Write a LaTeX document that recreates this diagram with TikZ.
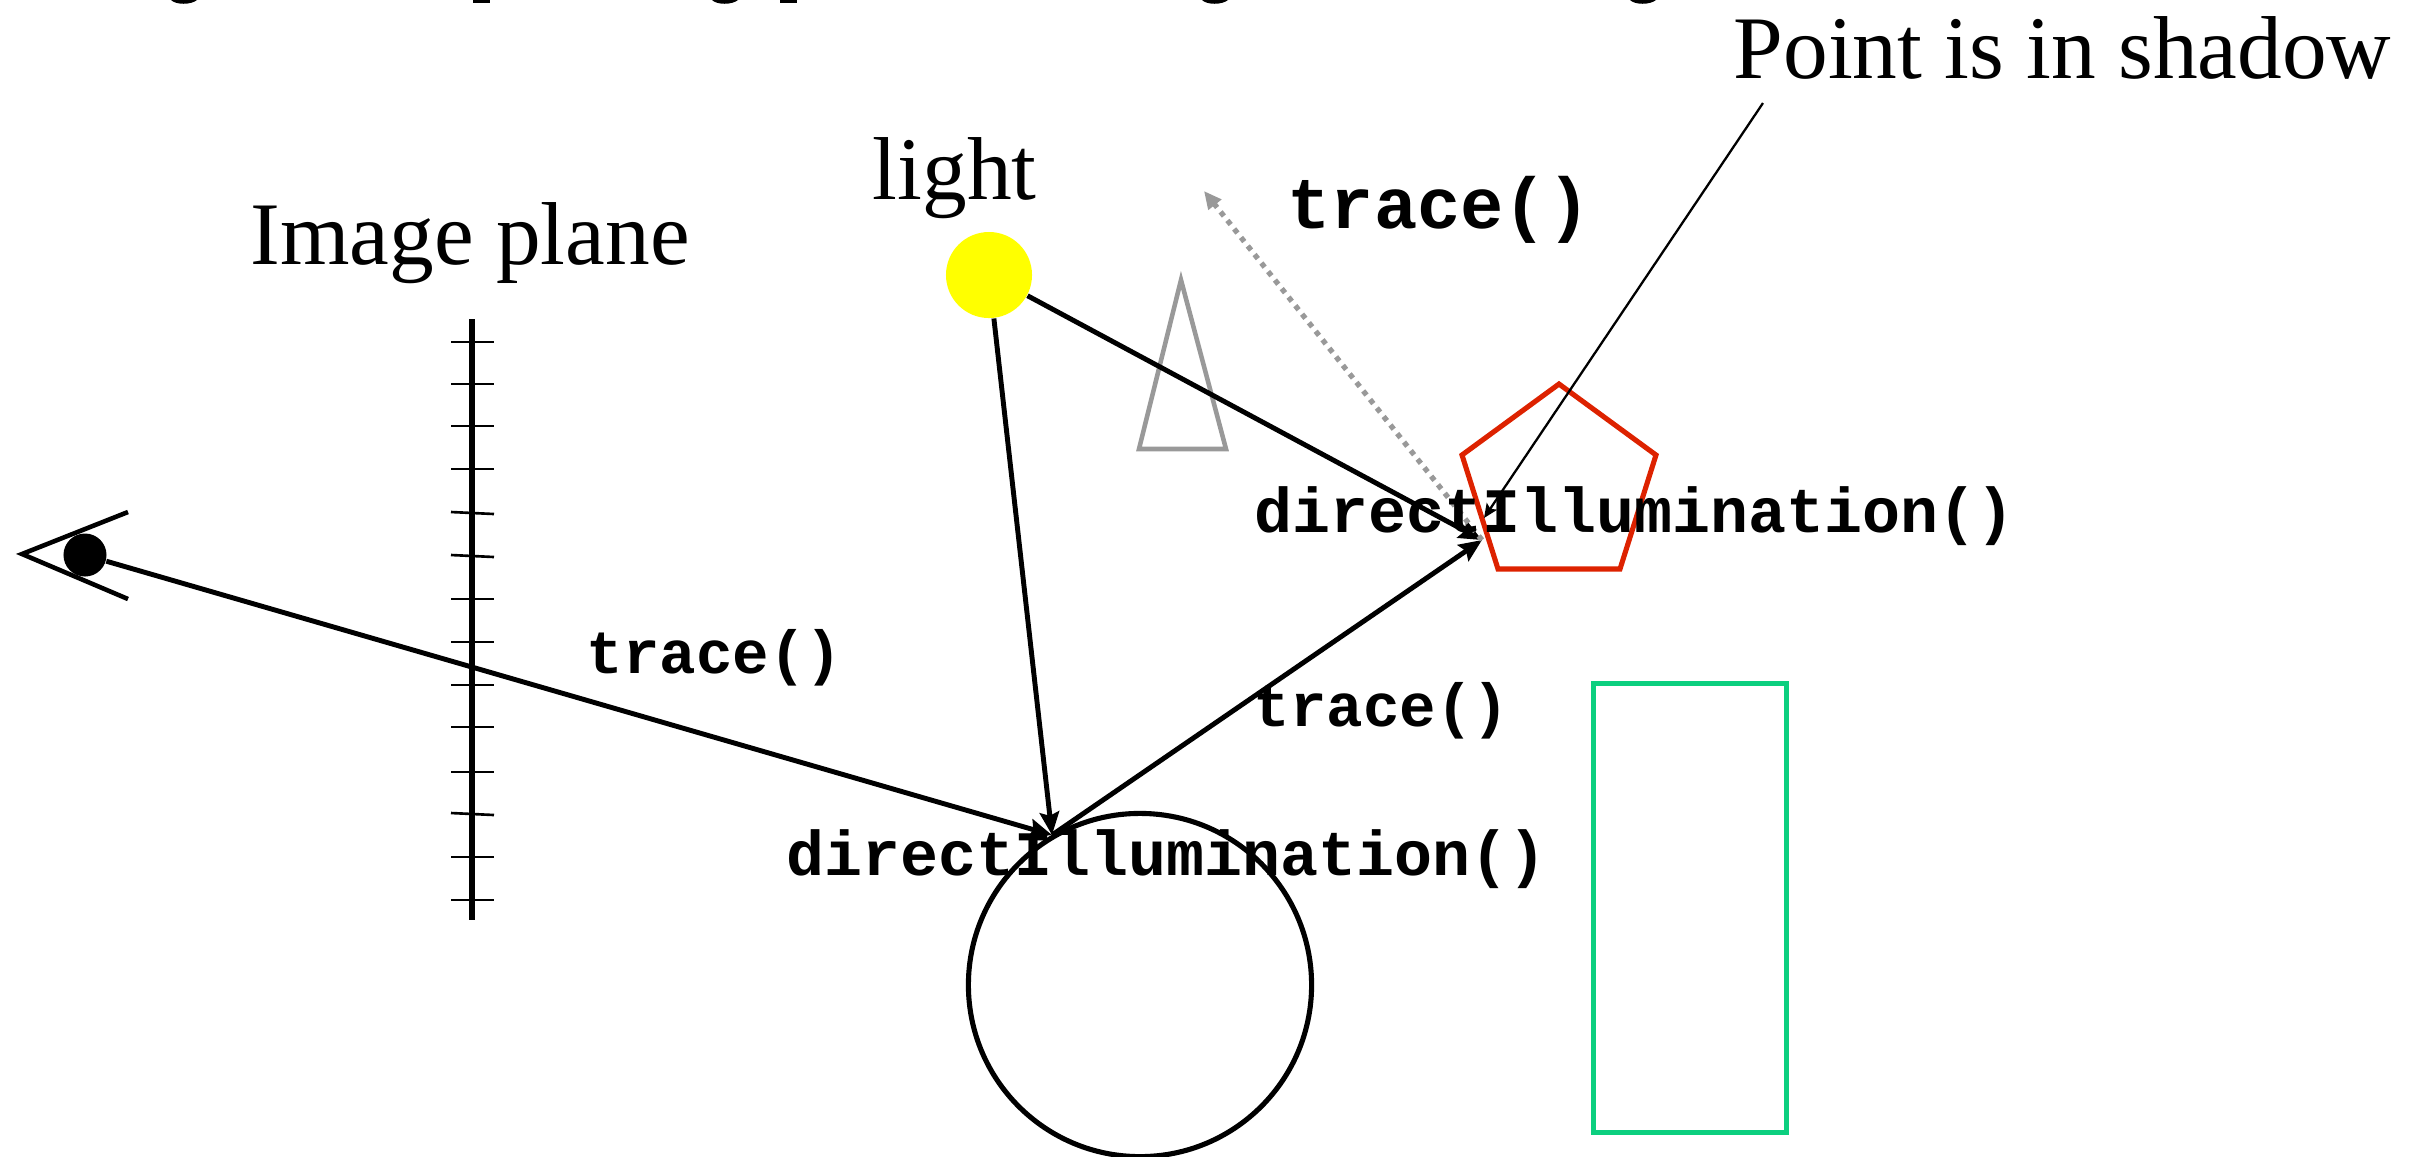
\documentclass[tikz,border=0pt]{standalone}
\usepackage{fontspec}
\usetikzlibrary{arrows.meta}
\setmainfont{Liberation Serif}
\setmonofont{Liberation Mono}
\tikzset{
  biglabel/.style={anchor=base west, inner sep=0pt, font=\fontsize{25.4}{30}\selectfont},
  codelabel/.style={anchor=base west, inner sep=0pt, font=\fontsize{18}{24}\selectfont\ttfamily\bfseries},
  tracelabel/.style={anchor=base west, inner sep=0pt, font=\fontsize{17.3}{24}\selectfont\ttfamily\bfseries},
  ray/.style={-{Stealth[length=6.5pt,width=5.5pt,inset=1pt]}, line width=1.4pt},
  greyshape/.style={draw=shadowgrey, line width=1.3pt},
}
\definecolor{shadowgrey}{HTML}{999999}
\definecolor{pentred}{HTML}{DD2200}
\definecolor{boxgreen}{HTML}{0CCF7F}
\definecolor{lampyellow}{HTML}{FFFF00}
\begin{document}
\begin{tikzpicture}[x=0.01cm, y=-0.01cm]
\clip (0,0) rectangle (2420,1156);

% cut-off title
\foreach \x in {171,712,1202,1630} \fill (\x,0) .. controls (\x+5,5) and (\x+20,5) .. (\x+26,0) -- cycle;
\foreach \x in {473,780} \fill (\x,0) rectangle (\x+17,3);

% eye
\node[circle, fill=black, inner sep=0pt, minimum size=0.43cm] (pupil) at (85,555) {};
\coordinate (lidup) at (128,512);
\coordinate (lidlow) at (128,599);
\coordinate (lidapex) at (22,554);
\draw[line width=1.3pt] (lidup) -- (lidapex) -- (lidlow);

% image plane
\coordinate (planetop) at (472,319);
\coordinate (planebot) at (472,920);
\draw[line width=1.5pt] (planetop) -- (planebot);
\foreach \y/\d in {342/0,384/0,426/0,469/0,513/1,556/1,599/0,642/0,685/0,727/0,772/0,814/1,857/0,900/0}
  \draw[line width=0.75pt] (451,\y-\d) -- (494,\y+\d);

% objects
\node[circle, draw, line width=1.45pt, minimum size=3.43cm] (sphere) at (1140,985) {};
\node[draw=boxgreen, rectangle, line width=1.5pt, minimum width=1.93cm, minimum height=4.49cm] (box) at (1690,908) {};
\draw[pentred, line width=1.45pt] (1559,384) -- (1656,455) -- (1620,569) -- (1498,569) -- (1462,455) -- cycle;
\draw[greyshape] (1181,280) -- (1226,449) -- (1139,449) -- cycle;
\node[circle, fill=lampyellow, inner sep=0pt, minimum size=0.86cm] (lamp) at (989,275) {};

% rays
\coordinate (hitsphere) at (1052,835);
\coordinate (hitpent) at (1482,540);
\coordinate (blocked) at (1204,191);
\coordinate (noteend) at (1763,103);
\coordinate (noteline) at (1484,518);

\draw[ray] (pupil) -- (hitsphere);
\draw[ray] (lamp) -- (hitsphere);
\draw[ray] (hitsphere) -- (hitpent);
\draw[ray] (lamp) -- (hitpent);
\draw[-{Stealth[length=4pt,width=3.5pt,inset=0.8pt]}, line width=0.65pt] (noteend) -- (noteline);
\draw[-{Stealth[length=5pt,width=4.5pt,inset=0pt]}, shadowgrey, line width=1.5pt, dash pattern=on 1.5pt off 1.6pt] (hitpent) -- (blocked);

% labels
\node[biglabel] (planelabel) at (250,264) {Image plane};
\node[biglabel] (lightlabel) at (872,199) {light};
\node[biglabel] (notelabel) at (1733,78) {Point is in shadow};
\node[tracelabel] (traceeye) at (586,673) {trace()};
\node[tracelabel] (tracepent) at (1253,726) {trace()};
\node[tracelabel, font=\fontsize{20.5}{28}\selectfont\ttfamily\bfseries] (traceout) at (1287,228) {trace()};
\node[codelabel] (dirsphere) at (786,875) {directIllumination()};
\node[codelabel] (dirpent) at (1254,532) {directIllumination()};
\end{tikzpicture}
\end{document}
